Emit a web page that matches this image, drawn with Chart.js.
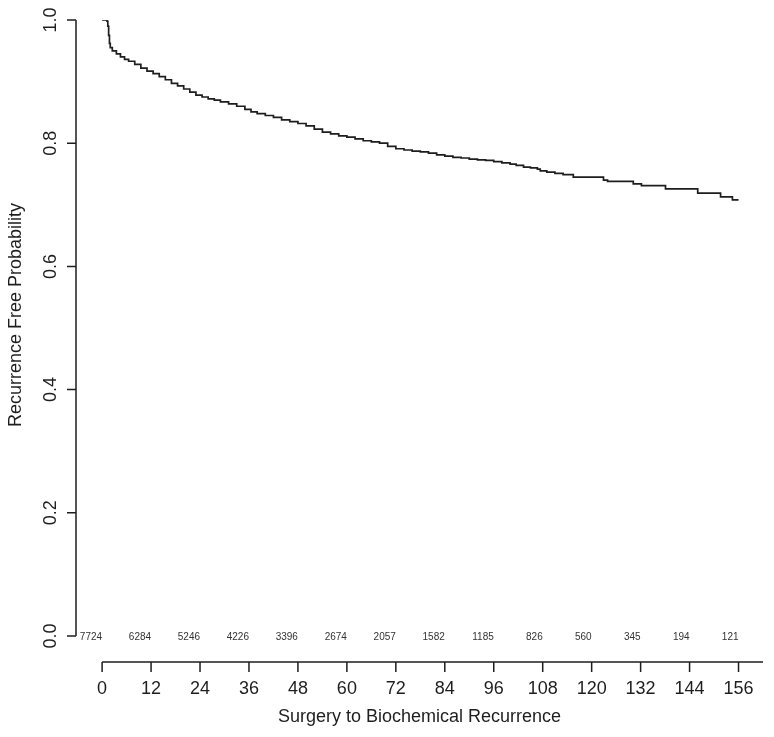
<!DOCTYPE html>
<html>
<head>
<meta charset="utf-8">
<title>Recurrence Free Probability</title>
<script src="https://cdn.jsdelivr.net/npm/chart.js@4.4.1/dist/chart.umd.min.js"></script>
<style>
    body { margin: 0; background: #fff; }
    canvas { display: block; }
</style>
</head>
<body>
<canvas id="kmChart" width="774" height="737"></canvas>
<script>
// Kaplan-Meier estimate (months, survival)
const months = [0, 1.2, 1.4, 1.6, 1.8, 2.0, 2.5, 3.5, 4.5, 5.5, 6.5, 8, 9.5, 11, 12.5, 14, 15.5, 17, 18.5, 20,
    21.5, 23, 24.5, 26, 27.5, 29, 31, 33, 35, 36.5, 38, 40, 42, 44, 46, 48, 50, 52, 54, 56,
    58, 60, 62, 64, 66, 68, 70, 72, 74, 76, 78, 80, 82, 84, 86, 88, 90, 92, 94, 96,
    98, 100, 101.5, 103.3, 105, 106.7, 107.4, 109, 111, 113, 115.5, 122.9, 123.9, 130.2, 132.2, 138.1, 146, 151.6, 154.5, 156];
const survival = [1.0, 0.998, 0.99, 0.975, 0.962, 0.955, 0.95, 0.945, 0.94, 0.936, 0.933, 0.928, 0.922, 0.917, 0.913, 0.908, 0.903, 0.897, 0.893, 0.888,
    0.883, 0.878, 0.875, 0.872, 0.87, 0.867, 0.864, 0.86, 0.855, 0.851, 0.848, 0.845, 0.842, 0.838, 0.835, 0.832, 0.828, 0.823, 0.818, 0.815,
    0.812, 0.81, 0.807, 0.804, 0.802, 0.8, 0.795, 0.791, 0.789, 0.787, 0.786, 0.784, 0.781, 0.779, 0.777, 0.776, 0.774, 0.773, 0.772, 0.77,
    0.768, 0.766, 0.764, 0.761, 0.76, 0.758, 0.755, 0.753, 0.751, 0.749, 0.745, 0.74, 0.738, 0.734, 0.731, 0.726, 0.719, 0.713, 0.708, 0.708];

const xTicks = [0, 12, 24, 36, 48, 60, 72, 84, 96, 108, 120, 132, 144, 156];
const yTicks = [0, 0.2, 0.4, 0.6, 0.8, 1.0];
const yTickLabels = ['0.0', '0.2', '0.4', '0.6', '0.8', '1.0'];

// numbers at risk, printed at each 12 month mark
const atRiskTimes = [0, 12, 24, 36, 48, 60, 72, 84, 96, 108, 120, 132, 144, 156];
const atRiskCounts = [7724, 6284, 5246, 4226, 3396, 2674, 2057, 1582, 1185, 826, 560, 345, 194, 121];

const xTitle = 'Surgery to Biochemical Recurrence';
const yTitle = 'Recurrence Free Probability';

const ink = '#1e1e1e';
const font = '"Liberation Sans", Arial, Helvetica, sans-serif';

// R style axes: detached x axis, rotated y labels
const rAxesPlugin = {
    id: 'rAxes',
    afterDraw(chart) {
        const ctx = chart.ctx;
        const xs = chart.scales.x;
        const ys = chart.scales.y;
        const area = chart.chartArea;
        ctx.save();
        ctx.strokeStyle = ink;
        ctx.fillStyle = ink;
        ctx.lineWidth = 1.5;

        // y axis
        const ax = area.left;
        ctx.beginPath();
        ctx.moveTo(ax, ys.getPixelForValue(yTicks[0]));
        ctx.lineTo(ax, ys.getPixelForValue(yTicks[yTicks.length - 1]));
        yTicks.forEach(v => {
            const py = ys.getPixelForValue(v);
            ctx.moveTo(ax, py);
            ctx.lineTo(ax - 9, py);
        });
        ctx.stroke();

        ctx.font = '18px ' + font;
        ctx.textAlign = 'center';
        ctx.textBaseline = 'middle';
        yTicks.forEach((v, i) => {
            ctx.save();
            ctx.translate(ax - 25, ys.getPixelForValue(v));
            ctx.rotate(-Math.PI / 2);
            ctx.fillText(yTickLabels[i], 0, 0);
            ctx.restore();
        });

        ctx.save();
        ctx.translate(16, 315);
        ctx.rotate(-Math.PI / 2);
        ctx.fillText(yTitle, 0, 0);
        ctx.restore();

        // x axis, offset below the plot
        const ay = area.bottom + 26;
        ctx.beginPath();
        ctx.moveTo(xs.getPixelForValue(0), ay);
        ctx.lineTo(area.right, ay);
        xTicks.forEach(v => {
            const px = xs.getPixelForValue(v);
            ctx.moveTo(px, ay);
            ctx.lineTo(px, ay + 10);
        });
        ctx.stroke();

        xTicks.forEach(v => {
            ctx.fillText(String(v), xs.getPixelForValue(v), ay + 27);
        });
        ctx.fillText(xTitle, (area.left + area.right) / 2, ay + 55);

        // numbers at risk
        ctx.font = '10px ' + font;
        ctx.fillStyle = '#333';
        ctx.textAlign = 'right';
        atRiskTimes.forEach((t, i) => {
            ctx.fillText(String(atRiskCounts[i]), xs.getPixelForValue(t), area.bottom + 1);
        });
        ctx.restore();
    }
};

const kmChart = new Chart(document.getElementById('kmChart'), {
    type: 'line',
    data: {
        datasets: [{
            label: 'Recurrence free',
            data: months.map((m, i) => ({ x: m, y: survival[i] })),
            stepped: true,
            borderColor: ink,
            borderWidth: 1.7,
            pointRadius: 0,
            fill: false
        }]
    },
    options: {
        responsive: false,
        animation: false,
        layout: {
            padding: { left: 76, right: 11, top: 20, bottom: 101 }
        },
        plugins: {
            legend: { display: false },
            tooltip: { enabled: false }
        },
        scales: {
            x: { type: 'linear', display: false, min: -6.4, max: 162 },
            y: { type: 'linear', display: false, min: 0, max: 1 }
        }
    },
    plugins: [rAxesPlugin]
});
</script>
</body>
</html>
